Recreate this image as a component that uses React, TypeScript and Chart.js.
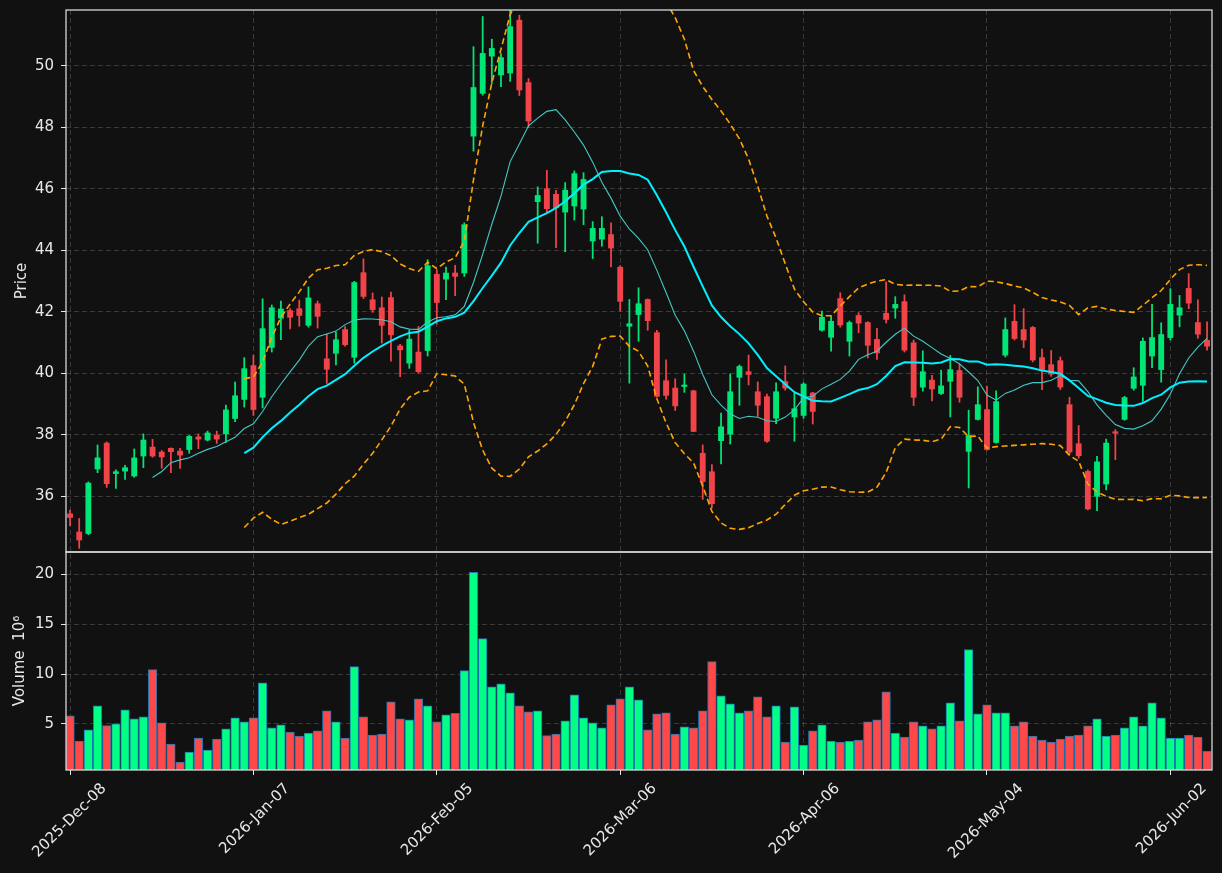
import React, { useEffect, useRef } from 'react';
import { Chart, registerables } from 'chart.js';

Chart.register(...registerables);

const dates = [
  '2025-Dec-08','2025-Dec-09','2025-Dec-10','2025-Dec-11','2025-Dec-12','2025-Dec-15','2025-Dec-16','2025-Dec-17','2025-Dec-18','2025-Dec-19',
  '2025-Dec-22','2025-Dec-23','2025-Dec-24','2025-Dec-26','2025-Dec-29','2025-Dec-30','2025-Dec-31','2026-Jan-02','2026-Jan-05','2026-Jan-06',
  '2026-Jan-07','2026-Jan-08','2026-Jan-09','2026-Jan-12','2026-Jan-13','2026-Jan-14','2026-Jan-15','2026-Jan-16','2026-Jan-20','2026-Jan-21',
  '2026-Jan-22','2026-Jan-23','2026-Jan-26','2026-Jan-27','2026-Jan-28','2026-Jan-29','2026-Jan-30','2026-Feb-02','2026-Feb-03','2026-Feb-04',
  '2026-Feb-05','2026-Feb-06','2026-Feb-09','2026-Feb-10','2026-Feb-11','2026-Feb-12','2026-Feb-13','2026-Feb-17','2026-Feb-18','2026-Feb-19',
  '2026-Feb-20','2026-Feb-23','2026-Feb-24','2026-Feb-25','2026-Feb-26','2026-Feb-27','2026-Mar-02','2026-Mar-03','2026-Mar-04','2026-Mar-05',
  '2026-Mar-06','2026-Mar-09','2026-Mar-10','2026-Mar-11','2026-Mar-12','2026-Mar-13','2026-Mar-16','2026-Mar-17','2026-Mar-18','2026-Mar-19',
  '2026-Mar-20','2026-Mar-23','2026-Mar-24','2026-Mar-25','2026-Mar-26','2026-Mar-27','2026-Mar-30','2026-Mar-31','2026-Apr-01','2026-Apr-02',
  '2026-Apr-06','2026-Apr-07','2026-Apr-08','2026-Apr-09','2026-Apr-10','2026-Apr-13','2026-Apr-14','2026-Apr-15','2026-Apr-16','2026-Apr-17',
  '2026-Apr-20','2026-Apr-21','2026-Apr-22','2026-Apr-23','2026-Apr-24','2026-Apr-27','2026-Apr-28','2026-Apr-29','2026-Apr-30','2026-May-01',
  '2026-May-04','2026-May-05','2026-May-06','2026-May-07','2026-May-08','2026-May-11','2026-May-12','2026-May-13','2026-May-14','2026-May-15',
  '2026-May-18','2026-May-19','2026-May-20','2026-May-21','2026-May-22','2026-May-26','2026-May-27','2026-May-28','2026-May-29','2026-Jun-01',
  '2026-Jun-02','2026-Jun-03','2026-Jun-04','2026-Jun-05','2026-Jun-08',
];

const opens = [
  35.43,34.84,34.79,36.89,37.73,36.74,36.82,36.66,37.31,37.60,
  37.44,37.56,37.47,37.52,37.93,37.83,37.99,38.03,38.53,39.15,
  40.25,39.22,40.84,41.79,42.04,42.10,41.56,42.26,40.47,40.65,
  41.42,40.52,43.27,42.39,42.13,42.46,40.89,40.33,40.69,40.74,
  43.22,43.06,43.26,43.26,47.71,49.10,50.31,49.70,49.76,51.48,
  49.45,45.58,46.00,45.82,45.24,45.44,45.34,44.30,44.36,44.51,
  43.45,41.53,41.91,42.40,41.32,39.76,39.52,39.57,39.43,37.40,
  36.80,37.81,38.02,39.87,40.05,39.40,39.24,38.54,39.73,38.58,
  38.63,39.36,41.40,41.17,42.43,41.04,41.88,41.65,41.10,41.95,
  42.12,42.33,40.99,39.55,39.78,39.34,39.74,40.09,37.46,38.50,
  38.82,37.75,40.59,41.69,41.42,41.49,40.51,40.28,40.41,38.98,
  37.71,36.81,36.00,36.40,38.10,38.50,39.51,39.61,40.56,40.12,
  41.16,41.89,42.76,41.65,41.07,
];
const highs = [
  35.55,35.28,36.47,37.67,37.77,36.86,37.01,37.54,38.03,37.85,
  37.49,37.58,37.56,37.98,38.03,38.12,38.12,38.97,39.71,40.51,
  40.59,42.42,42.22,42.35,42.10,42.38,42.81,42.35,41.28,41.34,
  41.52,42.99,43.72,42.61,42.48,42.64,40.94,41.41,41.52,43.69,
  43.35,43.45,43.51,44.89,50.62,51.60,50.86,50.39,51.80,51.64,
  49.58,46.06,46.60,45.95,46.20,46.58,46.52,44.93,45.09,44.89,
  43.50,42.40,42.78,42.42,41.40,40.44,39.82,39.97,39.45,37.67,
  37.03,38.71,39.98,40.27,40.59,39.72,39.32,39.69,40.24,39.36,
  39.69,39.38,42.02,41.86,42.62,41.70,41.97,41.68,41.46,42.97,
  42.49,42.55,41.08,40.73,39.93,40.10,40.58,40.30,38.80,39.56,
  39.58,39.43,41.80,42.23,42.10,41.52,40.79,40.74,40.53,39.22,
  38.30,36.86,37.30,37.86,38.17,39.25,40.18,41.15,42.24,41.64,
  42.75,42.53,43.24,42.39,41.67,
];
const lows = [
  35.05,34.31,34.75,36.77,36.29,36.26,36.55,36.62,36.93,37.27,
  36.91,36.77,36.91,37.40,37.55,37.80,37.72,37.75,38.43,38.90,
  38.63,38.87,40.69,41.09,41.44,41.53,41.50,41.47,39.67,40.27,
  40.88,40.33,42.43,41.98,40.98,40.39,39.89,40.16,40.00,40.56,
  41.60,42.39,42.52,43.15,47.22,49.04,49.42,49.32,49.49,49.03,
  47.98,44.23,45.21,44.08,43.95,44.98,44.83,43.73,44.13,43.46,
  42.02,39.68,41.04,41.40,39.22,39.16,38.79,39.38,38.10,35.90,
  35.62,37.05,37.70,38.96,39.62,38.60,37.75,38.36,39.45,37.79,
  38.54,38.35,41.37,40.72,41.50,40.56,41.32,40.50,40.45,41.64,
  41.79,40.69,38.95,39.42,39.10,39.31,38.58,39.06,36.27,38.48,
  37.50,37.73,40.53,41.08,40.83,40.37,39.47,39.90,39.47,37.35,
  37.24,35.56,35.53,36.21,37.19,38.47,39.45,39.09,40.18,39.71,
  41.08,41.51,42.10,41.14,40.75,
];
const closes = [
  35.31,34.58,36.43,37.25,36.41,36.80,36.93,37.25,37.83,37.31,
  37.28,37.45,37.34,37.95,37.86,38.06,37.86,38.81,39.27,40.15,
  38.82,41.45,42.13,42.09,41.82,41.88,42.45,41.85,40.13,41.09,
  40.93,42.95,42.50,42.07,41.56,41.25,40.76,41.11,40.05,43.50,
  42.30,43.26,43.15,44.83,49.29,50.40,50.56,50.26,51.27,49.21,
  48.20,45.78,45.35,45.38,45.95,46.49,46.30,44.71,44.71,44.07,
  42.34,41.61,42.26,41.71,39.25,39.28,38.94,39.62,38.11,36.48,
  35.76,38.26,39.40,40.22,39.96,38.96,37.79,39.40,39.52,38.85,
  39.65,38.76,41.82,41.69,41.57,41.65,41.63,40.91,40.66,41.75,
  42.24,40.75,39.22,40.05,39.49,39.59,40.12,39.22,37.98,38.98,
  37.52,39.08,41.42,41.13,41.08,40.43,40.12,39.97,39.55,37.44,
  37.32,35.59,37.12,37.73,38.05,39.21,39.88,41.04,41.16,41.26,
  42.24,42.13,42.28,41.27,40.88,
];
const volumes = [
  5.81,3.29,4.40,6.81,4.83,5.00,6.41,5.50,5.70,10.44,
  5.10,2.99,1.17,2.18,3.59,2.38,3.49,4.50,5.60,5.20,
  5.60,9.13,4.60,4.90,4.19,3.79,4.09,4.30,6.31,5.20,
  3.59,10.74,5.70,3.89,3.99,7.21,5.50,5.40,7.52,6.81,
  5.20,5.91,6.07,10.34,20.20,13.56,8.72,9.03,8.12,6.81,
  6.21,6.31,3.83,3.99,5.30,7.92,5.60,5.10,4.60,6.91,
  7.52,8.72,7.42,4.40,6.01,6.11,3.99,4.70,4.60,6.31,
  11.24,7.82,7.01,6.11,6.31,7.72,5.70,6.81,3.19,6.71,
  2.89,4.30,4.90,3.29,3.19,3.29,3.39,5.20,5.40,8.22,
  4.09,3.69,5.20,4.80,4.50,4.80,7.11,5.30,12.45,6.01,
  6.91,6.11,6.11,4.80,5.20,3.79,3.39,3.19,3.49,3.79,
  3.89,4.80,5.50,3.79,3.89,4.60,5.70,4.80,7.11,5.60,
  3.59,3.59,3.89,3.69,2.25,
];

const priceTicks = [36, 38, 40, 42, 44, 46, 48, 50];
const volumeTicks = [5, 10, 15, 20];
const xTickIndex = [0, 20, 40, 60, 80, 100, 120];

const BG = '#111111';
const FRAME = '#e6e6e6';
const TEXT = '#e8e8e8';
const GRID = 'rgba(255,255,255,0.17)';
const CANDLE_UP = '#00e676';
const CANDLE_DOWN = '#f0444a';
const VOL_UP = '#00ff84';
const VOL_DOWN = '#ff4848';
const VOL_EDGE = '#1f77b4';
const FONT = { family: 'DejaVu Sans', size: 15 };

function rollingMean(arr: number[], n: number) {
  return arr.map((_, i) => {
    if (i < n - 1) return null;
    let s = 0;
    for (let k = i - n + 1; k <= i; k++) s += arr[k];
    return s / n;
  });
}
function rollingStd(arr: number[], n: number) {
  const m = rollingMean(arr, n);
  return arr.map((_, i) => {
    if (m[i] === null) return null;
    let s = 0;
    for (let k = i - n + 1; k <= i; k++) s += (arr[k] - (m[i] as number)) ** 2;
    return Math.sqrt(s / n);
  });
}

const framePlugin = {
  id: 'frame',
  beforeDraw(chart: any) {
    const ctx = chart.ctx;
    ctx.save();
    ctx.fillStyle = BG;
    ctx.fillRect(0, 0, chart.width, chart.height);
    ctx.restore();
  },
  afterDraw(chart: any) {
    const ctx = chart.ctx;
    const { left, right } = chart.chartArea;
    ctx.save();
    ctx.strokeStyle = FRAME;
    ctx.lineWidth = 1.2;
    ['y', 'yVol'].forEach((id) => {
      const s = chart.scales[id];
      ctx.strokeRect(left, s.top, right - left, s.bottom - s.top);
    });
    ctx.restore();
  },
};

export default function App() {
  const ref = useRef<HTMLCanvasElement>(null);
  useEffect(() => {
    document.body.style.margin = '0';
    document.body.style.background = BG;
    const ma10 = rollingMean(closes, 10);
    const ma20 = rollingMean(closes, 20);
    const sd20 = rollingStd(closes, 20);
    const pts = (arr: (number | null)[]) =>
      arr.map((v, i) => (v === null ? null : { x: i, y: v })).filter((p) => p !== null);
    const upper = ma20.map((m, i) => (m === null ? null : m + 2 * (sd20[i] as number)));
    const lower = ma20.map((m, i) => (m === null ? null : m - 2 * (sd20[i] as number)));
    const isUp = closes.map((c, i) => c >= opens[i]);

    const chart = new Chart(ref.current as HTMLCanvasElement, {
      type: 'bar',
      data: {
        datasets: [
          {
            type: 'line', label: 'BB upper', yAxisID: 'y', data: pts(upper) as any,
            borderColor: '#ffa500', borderWidth: 1.6, borderDash: [6, 3.5], pointRadius: 0, order: 1,
          },
          {
            type: 'line', label: 'BB lower', yAxisID: 'y', data: pts(lower) as any,
            borderColor: '#ffa500', borderWidth: 1.6, borderDash: [6, 3.5], pointRadius: 0, order: 2,
          },
          {
            type: 'line', label: 'MA20', yAxisID: 'y', data: pts(ma20) as any,
            borderColor: '#00f0ff', borderWidth: 2, pointRadius: 0, order: 3,
          },
          {
            type: 'line', label: 'MA10', yAxisID: 'y', data: pts(ma10) as any,
            borderColor: '#45c8c4', borderWidth: 1.1, pointRadius: 0, order: 4,
          },
          {
            type: 'bar', label: 'bodies', yAxisID: 'y',
            data: closes.map((c, i) => ({ x: i, y: [opens[i], c] })) as any,
            backgroundColor: isUp.map((u) => (u ? CANDLE_UP : CANDLE_DOWN)),
            borderWidth: 0, maxBarThickness: 5.2, minBarLength: 1.2,
            grouped: false, barPercentage: 1, categoryPercentage: 1, order: 5,
          },
          {
            type: 'bar', label: 'wicks', yAxisID: 'y',
            data: highs.map((h, i) => ({ x: i, y: [lows[i], h] })) as any,
            backgroundColor: isUp.map((u) => (u ? CANDLE_UP : CANDLE_DOWN)),
            borderWidth: 0, maxBarThickness: 1.1,
            grouped: false, barPercentage: 1, categoryPercentage: 1, order: 6,
          },
          {
            type: 'bar', label: 'volume', yAxisID: 'yVol',
            data: volumes.map((v, i) => ({ x: i, y: v })) as any,
            backgroundColor: isUp.map((u) => (u ? VOL_UP : VOL_DOWN)),
            borderColor: VOL_EDGE, borderWidth: 1, maxBarThickness: 8.6,
            grouped: false, barPercentage: 1, categoryPercentage: 1, order: 7,
          },
        ],
      },
      options: {
        responsive: false,
        animation: false,
        events: [],
        layout: { padding: { top: 10, right: 10, left: 0, bottom: 0 } },
        plugins: { legend: { display: false }, tooltip: { enabled: false } },
        scales: {
          x: {
            type: 'linear', position: 'bottom', min: -0.44, max: 124.54, offset: false,
            afterBuildTicks: (s: any) => { s.ticks = xTickIndex.map((v) => ({ value: v })); },
            afterFit: (s: any) => { s.height = 103; s.paddingLeft = 0; s.paddingRight = 0; },
            ticks: {
              autoSkip: false, minRotation: 45, maxRotation: 45, color: TEXT, font: FONT,
              padding: 5, labelOffset: 34,
              callback: (v: any) => dates[v as number],
            },
            grid: { offset: false, color: GRID, tickColor: FRAME, tickLength: 5, tickWidth: 1 },
            border: { display: false, dash: [5, 3] },
          },
          yVol: {
            type: 'linear', position: 'left', stack: 'panels', stackWeight: 218,
            min: 0.38, max: 22.24,
            afterBuildTicks: (s: any) => { s.ticks = volumeTicks.map((v) => ({ value: v })); },
            afterFit: (s: any) => { s.width = 66; s.paddingTop = 0; s.paddingBottom = 0; },
            title: { display: true, text: 'Volume  10\u2076', color: TEXT, font: FONT, padding: { top: 11, bottom: 0 } },
            ticks: { color: TEXT, font: FONT, padding: 7 },
            grid: { color: GRID, tickColor: FRAME, tickLength: 5, tickWidth: 1 },
            border: { display: false, dash: [5, 3] },
          },
          y: {
            type: 'linear', position: 'left', stack: 'panels', stackWeight: 542,
            min: 34.19, max: 51.81,
            afterBuildTicks: (s: any) => { s.ticks = priceTicks.map((v) => ({ value: v })); },
            afterFit: (s: any) => { s.width = 66; s.paddingTop = 0; s.paddingBottom = 0; },
            title: { display: true, text: 'Price', color: TEXT, font: FONT, padding: { top: 13, bottom: 0 } },
            ticks: { color: TEXT, font: FONT, padding: 7 },
            grid: { color: GRID, tickColor: FRAME, tickLength: 5, tickWidth: 1 },
            border: { display: false, dash: [5, 3] },
          },
        },
      } as any,
      plugins: [framePlugin],
    });
    return () => chart.destroy();
  }, []);
  return <canvas ref={ref} width={1222} height={873} style={{ display: 'block' }} />;
}
